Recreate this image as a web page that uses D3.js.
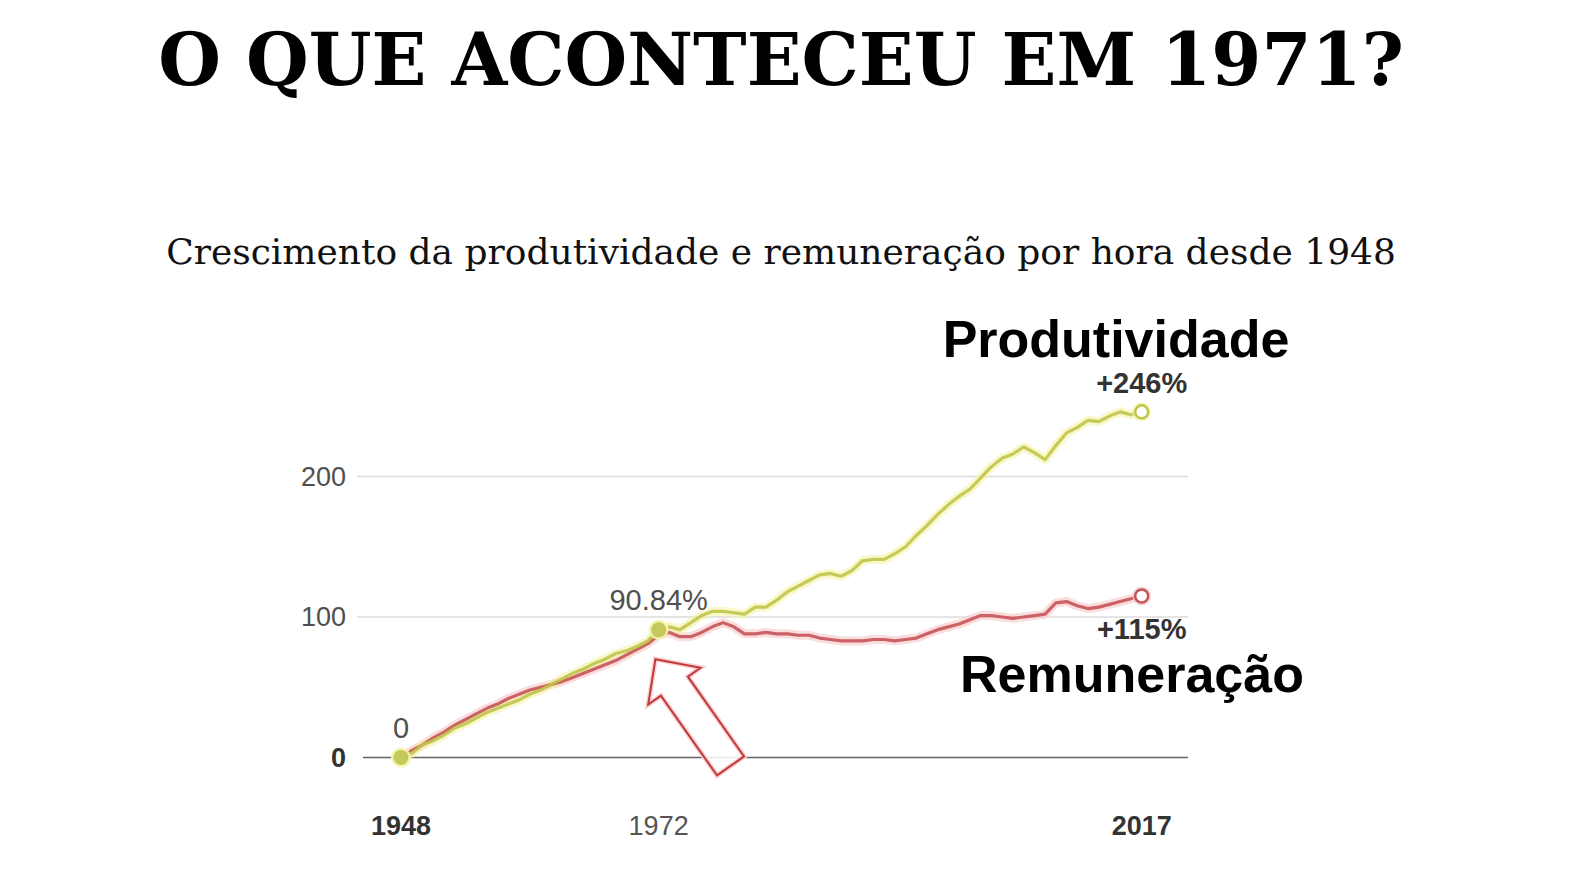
<!DOCTYPE html>
<html><head><meta charset="utf-8">
<script src="https://cdn.jsdelivr.net/npm/d3@7"></script>
<style>
html,body{margin:0;padding:0;background:#fff;}
svg{display:block;}
</style></head>
<body>
<svg id="c" width="1580" height="876"></svg>
<script>
// ---------- data ----------
const years = d3.range(1948, 2018);
const productivity = [
  0, 3, 9, 12, 16, 21, 24, 28, 32, 35,
  38, 41, 45, 48, 52, 56, 60, 63, 67, 70,
  74, 76, 79, 83, 90.84, 93, 91, 96, 101, 104,
  104, 103, 102, 107, 107, 112, 118, 122, 126, 130,
  131, 129, 133, 140, 141, 141, 145, 150, 158, 165,
  173, 180, 186, 191, 199, 207, 213, 216, 221, 217,
  212, 222, 231, 235, 240, 239, 243, 246, 244, 246
];
const compensation = [
  0, 5, 9, 14, 18, 23, 27, 31, 35, 38,
  42, 45, 48, 50, 52, 54, 57, 60, 63, 66,
  69, 73, 77, 81, 87, 89, 86, 86, 89, 93,
  96, 93, 88, 88, 89, 88, 88, 87, 87, 85,
  84, 83, 83, 83, 84, 84, 83, 84, 85, 88,
  91, 93, 95, 98, 101, 101, 100, 99, 100, 101,
  102, 110, 111, 108, 106, 107, 109, 111, 113, 115
];
const yTicks = [0, 100, 200];
const xTickLabels = [1948, 1972, 2017];
const title = "O QUE ACONTECEU EM 1971?";
const subtitle = "Crescimento da produtividade e remuneração por hora desde 1948";
const seriesNames = ["Produtividade", "Remuneração"];
const endLabels = ["+246%", "+115%"];
const markers = [{year: 1948, value: 0, label: "0"}, {year: 1972, value: 90.84, label: "90.84%"}];
const arrowTip = {year: 1971.7, value: 70};
const arrowTail = {year: 1978.7, value: -6};

// ---------- drawing ----------
const svg = d3.select("#c");
const x = d3.scaleLinear().domain([1948, 2017]).range([401, 1141.7]);
const y = d3.scaleLinear().domain([0, 100]).range([757.5, 617]);

const cProd = "#c0c44a", hProd = "#f3f4a8";
const cComp = "#c65459", hComp = "#f6c6c6";

svg.append("text").attr("x", 781).attr("y", 85).attr("text-anchor", "middle")
  .attr("font-family", "DejaVu Serif").attr("font-weight", "bold").attr("font-size", 72)
  .attr("fill", "#000").text(title);

svg.append("text").attr("x", 781).attr("y", 264).attr("text-anchor", "middle")
  .attr("font-family", "DejaVu Serif").attr("font-size", 36)
  .attr("fill", "#111").text(subtitle);

// gridlines
const g = svg.append("g");
g.selectAll("line.grid").data(yTicks).join("line")
  .attr("x1", d => d === 0 ? 363 : 357).attr("x2", 1188)
  .attr("y1", d => y(d)).attr("y2", d => y(d))
  .attr("stroke", d => d === 0 ? "#666" : "#dcdcdc")
  .attr("stroke-width", 1.6);

g.selectAll("text.ytick").data(yTicks).join("text")
  .attr("x", 346).attr("y", d => y(d) + 9).attr("text-anchor", "end")
  .attr("font-family", "Liberation Sans, Arial, sans-serif")
  .attr("font-size", 27)
  .attr("font-weight", d => d === 0 ? "bold" : "normal")
  .attr("fill", d => d === 0 ? "#333" : "#505050")
  .text(d => d);

g.selectAll("text.xtick").data(xTickLabels).join("text")
  .attr("x", d => x(d)).attr("y", 835).attr("text-anchor", "middle")
  .attr("font-family", "Liberation Sans, Arial, sans-serif")
  .attr("font-size", 27)
  .attr("font-weight", (d, i) => (i === 0 || i === xTickLabels.length - 1) ? "bold" : "normal")
  .attr("fill", (d, i) => (i === 0 || i === xTickLabels.length - 1) ? "#333" : "#555")
  .text(d => d);

const line = d3.line().x((d, i) => x(years[i])).y(d => y(d));

function halo(vals, col) {
  svg.append("path").datum(vals).attr("d", line).attr("fill", "none")
    .attr("stroke", col).attr("stroke-width", 9).attr("stroke-opacity", 0.6)
    .attr("stroke-linejoin", "round").attr("stroke-linecap", "round");
}
function stroke(vals, col, op) {
  svg.append("path").datum(vals).attr("d", line).attr("fill", "none")
    .attr("stroke", col).attr("stroke-width", 3.2).attr("stroke-opacity", op)
    .attr("stroke-linejoin", "round").attr("stroke-linecap", "round");
}
halo(compensation, hComp);
halo(productivity, hProd);
stroke(compensation, cComp, 0.9);
stroke(productivity, cProd, 0.9);

// arrow (outline) built from tip/tail in data space
(function () {
  const tx = x(arrowTip.year), ty = y(arrowTip.value);
  const bx = x(arrowTail.year), by = y(arrowTail.value);
  const dx = tx - bx, dy = ty - by, L = Math.hypot(dx, dy);
  const ux = dx / L, uy = dy / L, px = -uy, py = ux;
  const headLen = 33, headHalf = 32, shaftHalf = 16.5;
  const hx = tx - ux * headLen, hy = ty - uy * headLen;
  const pts = [
    [tx, ty],
    [hx + px * headHalf, hy + py * headHalf],
    [hx + px * shaftHalf, hy + py * shaftHalf],
    [bx + px * shaftHalf, by + py * shaftHalf],
    [bx - px * shaftHalf, by - py * shaftHalf],
    [hx - px * shaftHalf, hy - py * shaftHalf],
    [hx - px * headHalf, hy - py * headHalf]
  ];
  svg.append("polygon").attr("points", pts.map(p => p.join(",")).join(" "))
    .attr("fill", "#fff").attr("fill-opacity", 0.85)
    .attr("stroke", "#fbd0d0").attr("stroke-width", 5).attr("stroke-linejoin", "miter");
  svg.append("polygon").attr("points", pts.map(p => p.join(",")).join(" "))
    .attr("fill", "none").attr("stroke", "#c0393b").attr("stroke-width", 2).attr("stroke-linejoin", "miter");
})();

// markers
markers.forEach(m => {
  svg.append("circle").attr("cx", x(m.year)).attr("cy", y(m.value)).attr("r", 10)
    .attr("fill", hProd).attr("opacity", 0.9);
  svg.append("circle").attr("cx", x(m.year)).attr("cy", y(m.value)).attr("r", 7.5)
    .attr("fill", "#c5c85a");
  svg.append("text").attr("x", x(m.year)).attr("y", y(m.value) - 20).attr("text-anchor", "middle")
    .attr("font-family", "Liberation Sans, Arial, sans-serif").attr("font-size", 29)
    .attr("fill", "#505050").text(m.label);
});

// end circles
[[productivity, cProd, hProd], [compensation, cComp, hComp]].forEach(([vals, col, h]) => {
  const v = vals[vals.length - 1];
  svg.append("circle").attr("cx", x(2017)).attr("cy", y(v)).attr("r", 9.5)
    .attr("fill", h).attr("opacity", 0.7);
  svg.append("circle").attr("cx", x(2017)).attr("cy", y(v)).attr("r", 6.5)
    .attr("fill", "#fff").attr("stroke", col).attr("stroke-width", 2.5);
});

// end value labels
svg.append("text").attr("x", x(2017)).attr("y", y(productivity[productivity.length - 1]) - 19)
  .attr("text-anchor", "middle").attr("font-family", "Liberation Sans, Arial, sans-serif")
  .attr("font-weight", "bold").attr("font-size", 29).attr("fill", "#333").text(endLabels[0]);
svg.append("text").attr("x", x(2017)).attr("y", y(compensation[compensation.length - 1]) + 43)
  .attr("text-anchor", "middle").attr("font-family", "Liberation Sans, Arial, sans-serif")
  .attr("font-weight", "bold").attr("font-size", 29).attr("fill", "#333").text(endLabels[1]);

// series names
svg.append("text").attr("x", 1116).attr("y", 357).attr("text-anchor", "middle")
  .attr("font-family", "Liberation Sans, Arial, sans-serif").attr("font-weight", "bold")
  .attr("font-size", 52).attr("fill", "#000").text(seriesNames[0]);
svg.append("text").attr("x", 1132).attr("y", 692).attr("text-anchor", "middle")
  .attr("font-family", "Liberation Sans, Arial, sans-serif").attr("font-weight", "bold")
  .attr("font-size", 52).attr("fill", "#000").text(seriesNames[1]);
</script>
</body></html>
